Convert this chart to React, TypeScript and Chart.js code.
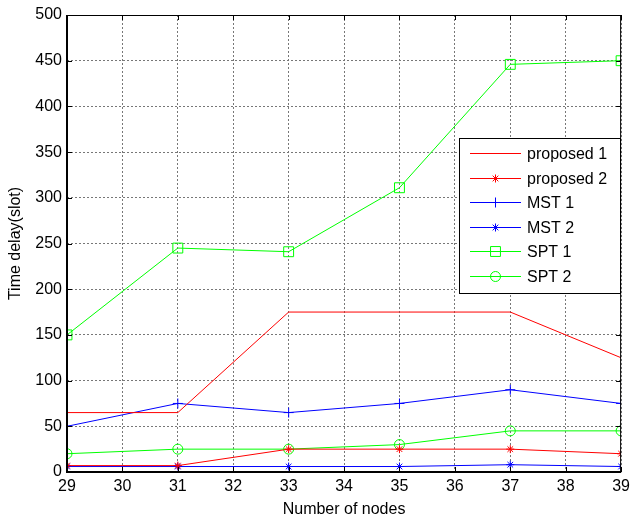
import React, { useEffect, useRef } from "react";
import { Chart, registerables } from "chart.js";

Chart.register(...registerables);

const nodes = [29, 31, 33, 35, 37, 39];
const proposed1 = [65, 65, 175, 175, 175, 125];
const proposed2 = [7, 7, 25, 25, 25, 20];
const mst1 = [50, 75, 65, 75, 90, 75];
const mst2 = [6, 6, 6, 6, 8, 6];
const spt1 = [150, 245, 241, 311, 446, 450];
const spt2 = [20, 25, 25, 30, 45, 45];

const seriesNames = ["proposed 1", "proposed 2", "MST 1", "MST 2", "SPT 1", "SPT 2"];
const seriesValues = [proposed1, proposed2, mst1, mst2, spt1, spt2];
const seriesColors = ["#ff0000", "#ff0000", "#0000ff", "#0000ff", "#00ff00", "#00ff00"];
const seriesMarkers: (string | false)[] = [false, "star", "cross", "star", "rect", "circle"];
const markerRadius = [0, 4, 5, 4, 7, 5];

const FONT = "Arial, 'Liberation Sans', sans-serif";
const FS = 16;

function drawMarker(ctx: CanvasRenderingContext2D, style: string, r: number, x: number, y: number) {
  ctx.beginPath();
  if (style === "circle") {
    ctx.arc(x, y, r, 0, Math.PI * 2);
  } else if (style === "rect") {
    const s = r * Math.SQRT1_2;
    ctx.rect(x - s, y - s, 2 * s, 2 * s);
  } else if (style === "cross") {
    ctx.moveTo(x - r, y); ctx.lineTo(x + r, y);
    ctx.moveTo(x, y - r); ctx.lineTo(x, y + r);
  } else if (style === "star") {
    ctx.moveTo(x - r, y); ctx.lineTo(x + r, y);
    ctx.moveTo(x, y - r); ctx.lineTo(x, y + r);
    const d = r * Math.SQRT1_2;
    ctx.moveTo(x - d, y - d); ctx.lineTo(x + d, y + d);
    ctx.moveTo(x - d, y + d); ctx.lineTo(x + d, y - d);
  }
  ctx.stroke();
}

const boxPlugin = {
  id: "boxPlugin",
  afterDraw(chart: any) {
    const { ctx, chartArea: a, scales } = chart;
    ctx.save();
    ctx.strokeStyle = "#000";
    ctx.lineWidth = 1;
    ctx.strokeRect(a.left + 0.5, a.top + 0.5, a.right - a.left - 1, a.bottom - a.top - 1);
    const xs = scales.x;
    const ys = scales.y;
    ctx.beginPath();
    for (let v = 29; v <= 39; v++) {
      const px = Math.round(xs.getPixelForValue(v)) + 0.5;
      ctx.moveTo(px, a.bottom);
      ctx.lineTo(px, a.bottom - 5);
      ctx.moveTo(px, a.top);
      ctx.lineTo(px, a.top + 5);
    }
    for (let v = 0; v <= 500; v += 50) {
      const py = Math.round(ys.getPixelForValue(v)) + 0.5;
      ctx.moveTo(a.left, py);
      ctx.lineTo(a.left + 5, py);
      ctx.moveTo(a.right, py);
      ctx.lineTo(a.right - 5, py);
    }
    ctx.stroke();
    ctx.lineWidth = 2;
    ctx.beginPath();
    ctx.moveTo(a.left, a.top);
    ctx.lineTo(a.left, a.bottom);
    ctx.lineTo(a.right, a.bottom);
    ctx.stroke();

    // legend
    const lx = 459, ly = 138, lw = 161, lh = 155;
    ctx.fillStyle = "#fff";
    ctx.fillRect(lx, ly, lw, lh);
    ctx.lineWidth = 1;
    ctx.strokeStyle = "#000";
    ctx.strokeRect(lx + 0.5, ly + 0.5, lw, lh);
    ctx.font = `${FS}px ${FONT}`;
    ctx.textBaseline = "middle";
    ctx.textAlign = "left";
    for (let i = 0; i < seriesNames.length; i++) {
      const cy = Math.round(153 + i * 24.6) + 0.5;
      ctx.strokeStyle = seriesColors[i];
      ctx.lineWidth = 1;
      ctx.beginPath();
      ctx.moveTo(470, cy);
      ctx.lineTo(521, cy);
      ctx.stroke();
      const m = seriesMarkers[i];
      if (m) drawMarker(ctx, m, markerRadius[i], 495.5, cy);
      ctx.fillStyle = "#000";
      ctx.fillText(seriesNames[i], 527, cy + 1);
    }
    ctx.restore();
  },
};

export default function App() {
  const ref = useRef<HTMLCanvasElement>(null);
  useEffect(() => {
    const canvas = ref.current!;
    const chart = new Chart(canvas, {
      type: "line",
      data: {
        datasets: seriesNames.map((name, i) => ({
          label: name,
          data: nodes.map((x, j) => ({ x, y: seriesValues[i][j] })),
          borderColor: seriesColors[i],
          backgroundColor: "transparent",
          borderWidth: 1,
          pointStyle: (seriesMarkers[i] || "circle") as any,
          pointRadius: seriesMarkers[i] ? markerRadius[i] : 0,
          pointBorderColor: seriesColors[i],
          pointBackgroundColor: "transparent",
          pointBorderWidth: 1,
          tension: 0,
        })),
      },
      options: {
        responsive: false,
        animation: false,
        devicePixelRatio: 1,
        layout: { padding: { top: 15, right: 8, left: 0, bottom: 0 } },
        plugins: { legend: { display: false }, tooltip: { enabled: false } },
        scales: {
          x: {
            type: "linear",
            min: 29,
            max: 39,
            ticks: { stepSize: 1, color: "#000", font: { family: FONT, size: FS }, padding: 5 },
            grid: { color: "#777", drawTicks: false, lineWidth: 1 },
            border: { display: false, dash: [2, 2] },
            title: { display: true, text: "Number of nodes", color: "#000", font: { family: FONT, size: FS }, padding: { top: 0, bottom: 0 } },
            afterFit: (s: any) => { s.height = 47; },
          },
          y: {
            min: 0,
            max: 500,
            ticks: { stepSize: 50, color: "#000", font: { family: FONT, size: FS }, padding: 5 },
            grid: { color: "#777", drawTicks: false, lineWidth: 1 },
            border: { display: false, dash: [2, 2] },
            title: { display: true, text: "Time delay(slot)", color: "#000", font: { family: FONT, size: FS }, padding: { top: 6, bottom: 0 } },
            afterFit: (s: any) => { s.width = 67; },
          },
        },
      },
      plugins: [boxPlugin],
    });
    return () => chart.destroy();
  }, []);
  return (
    <div style={{ position: "fixed", left: 0, top: 0, width: 635, height: 519, background: "#fff" }}>
      <canvas ref={ref} width={635} height={519} />
    </div>
  );
}
